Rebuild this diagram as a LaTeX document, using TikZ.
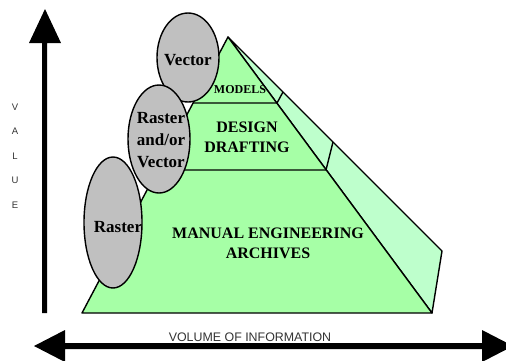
\documentclass[tikz,border=0pt]{standalone}
\usepackage{fontspec}
\setmainfont{Liberation Serif}
\newfontfamily\axisfont{Liberation Sans}
\usetikzlibrary{shapes.geometric}
\definecolor{frontgreen}{RGB}{166,255,166}
\definecolor{sidegreen}{RGB}{190,255,204}
\definecolor{blobgray}{RGB}{192,192,192}
\begin{document}
\begin{tikzpicture}[x=1pt,y=-1pt,
  outline/.style={draw=black,line width=1.4pt,line join=round},
  blob/.style={ellipse,draw=black,line width=1.4pt,fill=blobgray,inner sep=0pt},
  tiertext/.style={font=\bfseries\fontsize{16}{20}\selectfont,align=center,inner sep=0pt},
  blobtext/.style={font=\bfseries\fontsize{17}{22}\selectfont,align=center,inner sep=0pt},
  axislabel/.style={font=\axisfont,text=black!80,align=center,inner sep=0pt}]
\useasboundingbox (0,0) rectangle (506,360);

% value axis (vertical arrow)
\fill (42,313) -- (42,43) -- (29,43) -- (45,9) -- (61,43) -- (47,43) -- (47,313) -- cycle;
% volume axis (double-headed horizontal arrow)
\fill (34,346) -- (65,330) -- (65,343) -- (482,343) -- (482,330) -- (513,346)
      -- (482,362) -- (482,349) -- (65,349) -- (65,362) -- cycle;

\node[axislabel,font=\axisfont\fontsize{9.5}{24.5}\selectfont] (value) at (15,156) {V\\A\\L\\U\\E};
\node[axislabel,font=\axisfont\fontsize{12.4}{14}\selectfont] (volume) at (250,337.5) {VOLUME OF INFORMATION};

% pyramid
\coordinate (apex) at (228,37);
\coordinate (bl) at (82,313);
\coordinate (br) at (432,313);
\coordinate (back) at (442,251);
\draw[outline,fill=sidegreen] (apex) -- (back) -- (br) -- cycle;
\draw[outline,fill=frontgreen] (apex) -- (bl) -- (br) -- cycle;
\draw[outline] (193,103) -- (277,103) -- (283,92);
\draw[outline] (158,170) -- (326,170) -- (333,142);

\node[tiertext,font=\bfseries\fontsize{12}{14}\selectfont] (models) at (240,90) {MODELS};
\node[tiertext] (design) at (247,137) {DESIGN\\DRAFTING};
\node[tiertext] (archives) at (268,243) {MANUAL ENGINEERING\\ARCHIVES};

% data formats
\node[blob,minimum width=62pt,minimum height=89pt] (vec) at (188,57.5) {};
\node[blob,minimum width=62pt,minimum height=108pt] (rv) at (159,139) {};
\node[blob,minimum width=58pt,minimum height=131pt] (ras) at (113,222.5) {};
\node[blobtext] (vectext) at (188,60) {Vector};
\node[blobtext] (rvtext) at (161,140.5) {Raster\\and/or\\Vector};
\node[blobtext] (rastext) at (118,227) {Raster};
\end{tikzpicture}
\end{document}
